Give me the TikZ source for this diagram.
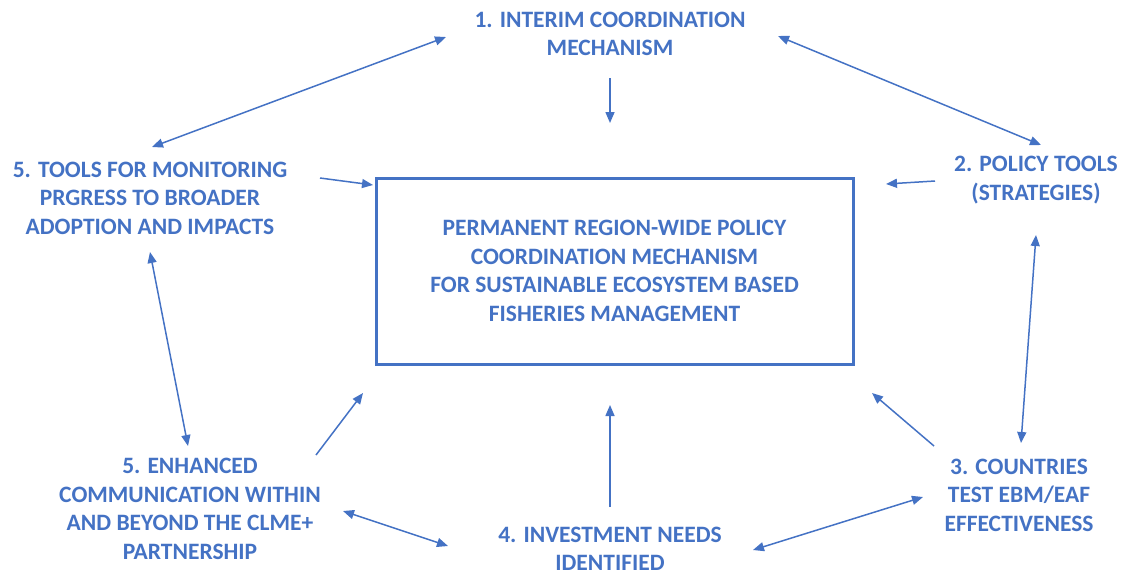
\documentclass[tikz,border=0pt]{standalone}
\usepackage{fontspec}
\setmainfont{Carlito}
\usetikzlibrary{arrows.meta}
\definecolor{ppblue}{HTML}{4472C4}
\begin{document}
\begin{tikzpicture}[x=1pt,y=-1pt,
  lbl/.style={text=ppblue,font=\fontsize{23.5}{28.5}\selectfont\bfseries,align=center,inner sep=0pt},
  conn/.style={draw=ppblue,line width=1.5pt,-{Triangle[length=11pt,width=9pt]}},
  bconn/.style={draw=ppblue,line width=1.5pt,{Triangle[length=11pt,width=9pt]}-{Triangle[length=11pt,width=9pt]}}]
\useasboundingbox (0,0) rectangle (1121,574);
\node[draw=ppblue,line width=3pt,minimum width=477pt,minimum height=186pt,inner sep=0pt] (box) at (614.5,271) {};
\node[lbl] (boxt) at (614.5,271) {PERMANENT REGION-WIDE POLICY\\COORDINATION MECHANISM\\FOR SUSTAINABLE ECOSYSTEM BASED\\FISHERIES MANAGEMENT};
\node[lbl] (n1) at (610,34) {1. INTERIM COORDINATION\\MECHANISM};
\node[lbl] (n2) at (1036,180) {2. POLICY TOOLS\\(STRATEGIES)};
\node[lbl] (n3) at (1019,495) {3. COUNTRIES\\TEST EBM/EAF\\EFFECTIVENESS};
\node[lbl] (n4) at (610,549) {4. INVESTMENT NEEDS\\IDENTIFIED};
\node[lbl] (n5a) at (150,198) {5. TOOLS FOR MONITORING\\PRGRESS TO BROADER\\ADOPTION AND IMPACTS};
\node[lbl] (n5b) at (190,509) {5. ENHANCED\\COMMUNICATION WITHIN\\AND BEYOND THE CLME+\\PARTNERSHIP};
% connector end points
\coordinate (a1) at (446,37);   \coordinate (a2) at (152,147);
\coordinate (b1) at (778,36);   \coordinate (b2) at (1041,145);
\coordinate (c1) at (610,78);   \coordinate (c2) at (610,123);
\coordinate (d1) at (320,178);  \coordinate (d2) at (373,185);
\coordinate (e1) at (935,181);  \coordinate (e2) at (886,184);
\coordinate (f1) at (150,252);  \coordinate (f2) at (188,446);
\coordinate (g1) at (1036,235); \coordinate (g2) at (1021,443);
\coordinate (h1) at (316,455);  \coordinate (h2) at (363,393);
\coordinate (i1) at (610,507);  \coordinate (i2) at (610,405);
\coordinate (j1) at (934,446);  \coordinate (j2) at (872,393);
\coordinate (k1) at (343,511);  \coordinate (k2) at (448,546);
\coordinate (l1) at (753,550);  \coordinate (l2) at (923,497);
\draw[bconn] (a1) -- (a2);
\draw[bconn] (b1) -- (b2);
\draw[conn] (c1) -- (c2);
\draw[conn] (d1) -- (d2);
\draw[conn] (e1) -- (e2);
\draw[bconn] (f1) -- (f2);
\draw[bconn] (g1) -- (g2);
\draw[conn] (h1) -- (h2);
\draw[conn] (i1) -- (i2);
\draw[conn] (j1) -- (j2);
\draw[bconn] (k1) -- (k2);
\draw[bconn] (l1) -- (l2);
\end{tikzpicture}
\end{document}
